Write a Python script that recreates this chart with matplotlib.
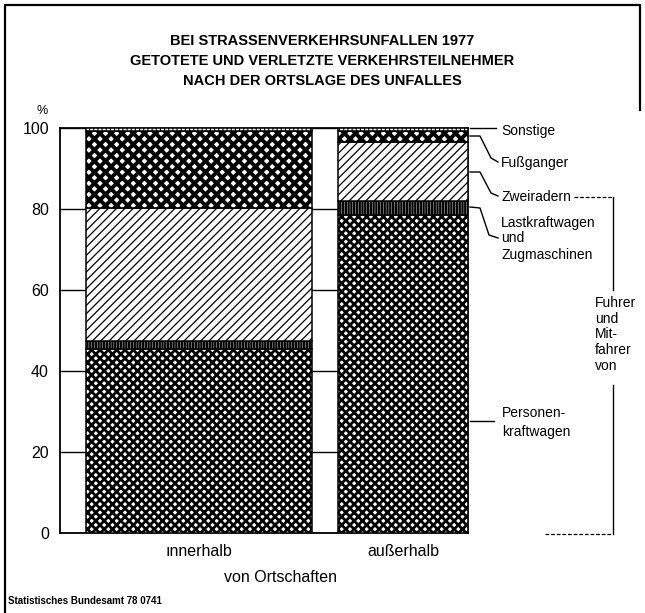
import matplotlib
matplotlib.use("Agg")
import matplotlib.pyplot as plt
from matplotlib.lines import Line2D
import numpy as np

W, H = 645, 613
FONT = ['Liberation Sans', 'DejaVu Sans']
plt.rcParams['font.family'] = FONT

# ---- data ----
categories = ['ınnerhalb', 'außerhalb']
segments = ['Personenkraftwagen', 'Lastkraftwagen und Zugmaschinen', 'Zweiradern', 'Fußganger', 'Sonstige']
pkw = [45.4, 78.5]
lkw = [2.0, 3.5]
zweirad = [32.8, 14.5]
fussg = [19.0, 2.7]
sonstige = [0.8, 0.8]
series = [pkw, lkw, zweirad, fussg, sonstige]
yticks = [0, 20, 40, 60, 80, 100]

# ---- styles ----
hatches = ['xxxx', '||||||', '////', 'xxx', '||||']
hatch_lw = [2.0, 1.7, 0.9, 2.8, 0.8]
bar_widths = [1.108, 0.637]

fig = plt.figure(figsize=(W / 100, H / 100), dpi=100)
ax = fig.add_axes([60 / W, 1 - 533 / H, (468 - 60) / W, (533 - 128) / H])

def P(x, y):
    return (x / W, 1 - y / H)

x = np.arange(len(categories))
bottom = np.zeros(len(categories))
for vals, hatch, hlw in zip(series, hatches, hatch_lw):
    with plt.rc_context({'hatch.linewidth': hlw}):
        bars = ax.bar(x, vals, bottom=bottom, width=bar_widths, facecolor='white',
                      edgecolor='black', hatch=hatch, linewidth=1.1, zorder=3)
    for b in bars:
        if hasattr(b, 'set_hatch_linewidth'):
            b.set_hatch_linewidth(hlw)
    bottom += np.array(vals)

ax.set_xlim((60 - 199) / 204, (468 - 199) / 204)
ax.set_ylim(0, 100)
ax.set_yticks(yticks)
ax.set_yticklabels([str(v) for v in yticks], fontsize=11.5)
ax.tick_params(axis='y', length=0, pad=8)
ax.set_xticks([])
ax.yaxis.grid(True, color='black', linewidth=1.0, zorder=0)
ax.set_axisbelow(True)
for s in ax.spines.values():
    s.set_linewidth(1.3)

# category labels
for xi, lab in zip(x, categories):
    ax.text(xi, -4.6, lab, ha='center', va='center', fontsize=11.5)
fig.text(*P(280, 578), 'von Ortschaften', ha='center', va='center', fontsize=11.5)
fig.text(*P(42, 111), '%', ha='center', va='center', fontsize=9)

# title
titles = ['BEI STRASSENVERKEHRSUNFALLEN 1977',
          'GETOTETE UND VERLETZTE VERKEHRSTEILNEHMER',
          'NACH DER ORTSLAGE DES UNFALLES']
for i, t in enumerate(titles):
    fig.text(*P(322, 41 + 20 * i), t, ha='center', va='center', fontsize=10.5,
             fontweight='bold')

fig.text(*P(8, 601), 'Statistisches Bundesamt 78 0741', ha='left', va='center',
         fontsize=7, fontweight='bold')

# frame
def line(pts, **kw):
    xs = [p[0] / W for p in pts]
    ys = [1 - p[1] / H for p in pts]
    kw.setdefault('color', 'black')
    kw.setdefault('linewidth', 1.0)
    fig.add_artist(Line2D(xs, ys, transform=fig.transFigure, **kw))

line([(5, 613), (5, 5), (640, 5), (640, 110)], linewidth=1.6)

# right-side labels
fs = 10
fig.text(*P(501, 131), 'Sonstige', ha='left', va='center', fontsize=fs)
line([(470, 128), (496, 128)])
fig.text(*P(501, 163), 'Fußganger', ha='left', va='center', fontsize=fs)
line([(470, 136), (480, 136), (491, 158), (498, 162)])
fig.text(*P(502, 197), 'Zweiradern', ha='left', va='center', fontsize=fs)
line([(470, 172), (480, 172), (491, 193), (498, 196)])
fig.text(*P(501, 223), 'Lastkraftwagen', ha='left', va='center', fontsize=fs)
fig.text(*P(501, 238), 'und', ha='left', va='center', fontsize=fs)
fig.text(*P(501, 255), 'Zugmaschinen', ha='left', va='center', fontsize=fs)
line([(470, 207), (480, 208), (489, 235), (498, 238)])
fig.text(*P(502, 413), 'Personen-', ha='left', va='center', fontsize=fs)
fig.text(*P(502, 432), 'kraftwagen', ha='left', va='center', fontsize=fs)
line([(470, 421), (494, 421)])

# bracket
line([(574, 197), (613, 197)], linestyle=(0, (3, 1.5)), linewidth=0.9)
line([(613, 197), (613, 290)])
line([(613, 385), (613, 534)])
line([(545, 534), (613, 534)], linestyle=(0, (3, 1.5)), linewidth=0.9)
for i, t in enumerate(['Fuhrer', 'und', 'Mit-', 'fahrer', 'von']):
    fig.text(*P(595, 303 + 15.7 * i), t, ha='left', va='center', fontsize=fs)

fig.savefig('out.png', dpi=100)
